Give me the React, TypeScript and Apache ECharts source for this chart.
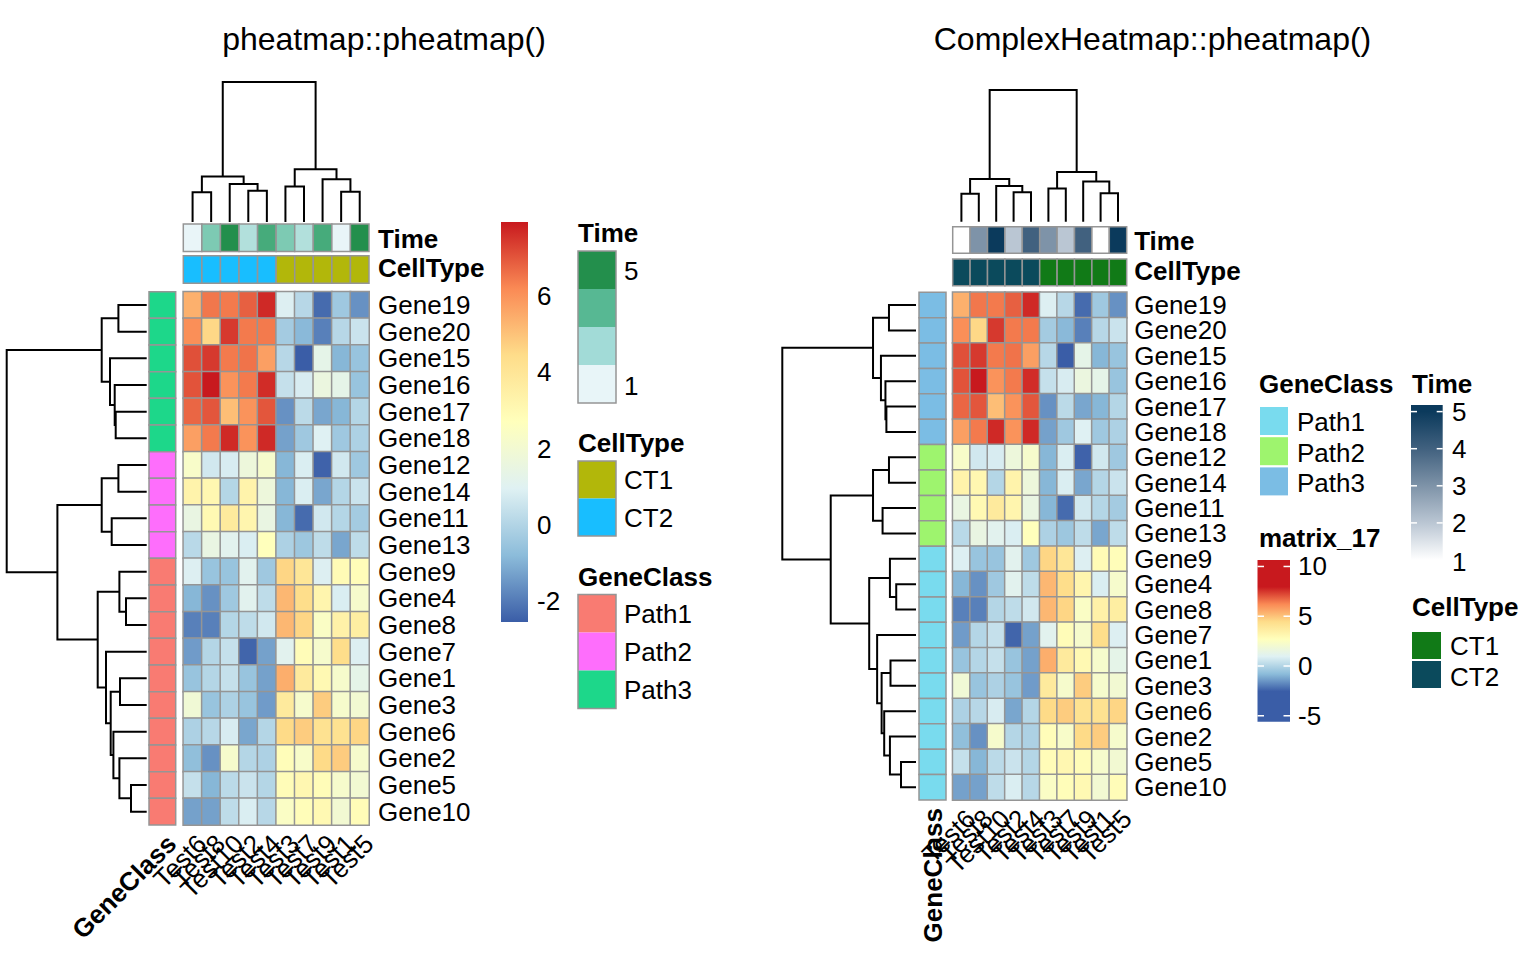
import React, { useEffect, useRef } from "react";
import * as echarts from "echarts";

// ---------------- data ----------------
const tests = ["Test6", "Test8", "Test10", "Test2", "Test4", "Test3", "Test7", "Test9", "Test1", "Test5"];
const genes = ["Gene19", "Gene20", "Gene15", "Gene16", "Gene17", "Gene18", "Gene12", "Gene14", "Gene11", "Gene13",
  "Gene9", "Gene4", "Gene8", "Gene7", "Gene1", "Gene3", "Gene6", "Gene2", "Gene5", "Gene10"];

// rows follow `genes`, columns follow `tests`
const expression = [
  [5.4, 6.5, 6.45, 6.85, 7.7, 0.9, 0.1, -2.3, -0.4, -1.6],
  [6.1, 4.55, 7.45, 6.45, 6.45, -0.3, -0.85, -1.9, 0.1, 0.5],
  [7.1, 7.45, 6.45, 6.55, 5.75, 0.1, -2.55, 1.3, -0.9, -0.55],
  [7.05, 7.95, 6.0, 6.45, 7.65, 0.4, 0.8, 1.6, 1.3, -0.55],
  [6.75, 7.0, 5.1, 6.0, 7.0, -1.6, 0.2, -1.2, -0.9, 0.05],
  [5.75, 6.45, 7.7, 6.0, 7.7, -1.3, -0.4, 0.95, -0.4, -0.1],
  [2.3, 0.65, 0.8, 1.7, 2.2, -0.9, 0.85, -2.45, 0.65, -0.4],
  [3.3, 3.1, 0.05, 3.3, 1.7, -0.9, 0.85, -1.2, 0.05, 0.5],
  [1.5, 3.0, 3.8, 3.2, 1.5, -0.9, -2.3, 0.65, 0.05, -0.3],
  [0.15, 1.5, 1.1, 0.85, 2.7, -0.1, -0.45, 0.25, -1.2, 0.25],
  [0.9, -0.55, -0.55, 1.1, -0.4, 4.6, 4.0, 0.9, 2.9, 2.8],
  [-0.9, -1.6, -0.4, 1.1, 0.25, 5.25, 4.4, 3.2, 0.85, 2.2],
  [-1.9, -1.9, 0.05, 0.25, 0.65, 5.25, 4.6, 2.4, 3.4, 3.6],
  [-1.4, 0.05, 0.4, -2.4, -1.3, 1.1, 2.85, 2.2, 4.4, 0.9],
  [-0.55, 0.05, 0.4, -0.55, -1.3, 5.45, 3.8, 3.0, 2.2, 1.3],
  [1.9, -0.55, -0.1, -0.55, -1.4, 3.8, 2.2, 4.8, 2.2, 2.0],
  [-0.1, 0.1, 0.8, -1.2, 0.05, 4.5, 4.8, 4.2, 4.2, 4.6],
  [-0.7, -1.6, 2.2, 0.05, -0.1, 2.8, 2.3, 4.5, 4.8, 2.2],
  [0.4, -0.9, 0.2, 0.5, 0.05, 2.85, 3.1, 2.85, 2.2, 2.0],
  [-1.3, -1.3, 0.25, 0.85, 0.1, 2.4, 2.8, 3.0, 2.0, 2.85],
];

const timeByColumn = [1, 3, 5, 2, 4, 3, 2, 4, 1, 5];
const cellTypeByColumn = ["CT2", "CT2", "CT2", "CT2", "CT2", "CT1", "CT1", "CT1", "CT1", "CT1"];
const geneClassByRow = ["Path3", "Path3", "Path3", "Path3", "Path3", "Path3", "Path2", "Path2", "Path2", "Path2",
  "Path1", "Path1", "Path1", "Path1", "Path1", "Path1", "Path1", "Path1", "Path1", "Path1"];

// hclust-like merges: negative = leaf (display position), positive = earlier merge; third = height
const colMerge = [
  [-1, -2, 29.7], [-4, -5, 31.3], [-3, 2, 38], [1, 3, 45.3],
  [-6, -7, 35.3], [-9, -10, 30.3], [-8, 6, 42.7], [5, 7, 52.7], [4, 8, 139.7],
];
const rowMerge = [
  [-1, -2, 28.3], [-5, -6, 31], [-4, 2, 32], [-3, 3, 36.7], [1, 4, 45],
  [-7, -8, 28.3], [-9, -10, 35], [6, 7, 45],
  [-12, -13, 20.7], [-11, 9, 27.3], [-15, -16, 26.7], [-19, -20, 15.7], [-18, 12, 27.3],
  [-17, 13, 33.3], [11, 14, 36], [-14, 15, 40.7], [10, 16, 49], [8, 17, 89.3], [5, 18, 140],
];

const leftScaleTicks = [6, 4, 2, 0, -2];
const rightScaleTicks = [10, 5, 0, -5];
const timeTicks = [5, 4, 3, 2, 1];
const classNames = ["Path1", "Path2", "Path3"];
const cellTypeNames = ["CT1", "CT2"];

// ---------------- styles ----------------
const FONT = "'Liberation Sans', Arial, Helvetica, sans-serif";
const FS = 26;
const heatColors = ["#3A5DA7", "#8CBCDA", "#DFF1F3", "#FFFFBC", "#FEDD8A", "#FA8A55", "#C8191E"];
const valueMin = -2.55;
const valueMax = 7.95;
const cellBorder = "#959595";
const borderW = 1.5;

const leftTimeColors: Record<number, string> = { 1: "#E9F5F8", 2: "#B2E0DC", 3: "#7DCAB3", 4: "#46AB7B", 5: "#238F4C" };
const leftTimeLegend = ["#238F4C", "#57B893", "#A2DBD7", "#E8F5F8"];
const leftCellColors: Record<string, string> = { CT1: "#B2B70A", CT2: "#18BEFF" };
const leftClassColors: Record<string, string> = { Path1: "#F97B72", Path2: "#FE6EFC", Path3: "#1DD78A" };

const rightTimeColors: Record<number, string> = { 1: "#FFFFFF", 2: "#BAC6D3", 3: "#7E93A8", 4: "#41617F", 5: "#0B3A5C" };
const rightCellColors: Record<string, string> = { CT1: "#117A17", CT2: "#0B4A5C" };
const rightClassColors: Record<string, string> = { Path1: "#79DBEE", Path2: "#9EF46E", Path3: "#7BBDE4" };

// ---------------- helpers ----------------
function dendroSegments(merge: number[][]) {
  const nodes: { x: number; h: number }[] = [];
  const segs: number[][] = [];
  const pos = (ref: number) => (ref < 0 ? { x: -ref - 0.5, h: 0 } : nodes[ref - 1]);
  merge.forEach(([a, b, h]) => {
    const A = pos(a);
    const B = pos(b);
    segs.push([A.x, B.x, A.h, B.h, h]);
    nodes.push({ x: (A.x + B.x) / 2, h });
  });
  return segs;
}

const txt = (x: number, y: number, text: string, bold = false, align = "left", size = FS) => ({
  type: "text",
  x,
  y,
  silent: true,
  style: {
    text,
    fontSize: size,
    fontFamily: FONT,
    fontWeight: bold ? "bold" : "normal",
    fill: "#000",
    align,
    verticalAlign: "middle",
    textAlign: align,
    textVerticalAlign: "middle",
  },
});
const rect = (x: number, y: number, w: number, h: number, fill: any, stroke?: string, lw = 1.2) => ({
  type: "rect",
  silent: true,
  shape: { x, y, width: w, height: h },
  style: { fill, stroke: stroke || null, lineWidth: stroke ? lw : 0 },
});
const dash = (x1: number, x2: number, y: number) => ({
  type: "line",
  silent: true,
  shape: { x1, y1: y, x2, y2: y },
  style: { stroke: "#FFFFFF", lineWidth: 1.5 },
});

function buildOption() {
  const colSegs = dendroSegments(colMerge);
  const rowSegs = dendroSegments(rowMerge);
  const colRoot = colMerge[colMerge.length - 1][2];
  const rowRoot = rowMerge[rowMerge.length - 1][2];

  const heatData: number[][] = [];
  expression.forEach((row, r) => row.forEach((v, c) => heatData.push([c, r, v])));

  const colAnnData: number[][] = [];
  tests.forEach((_, i) => colAnnData.push([i, 0]));
  tests.forEach((_, i) => colAnnData.push([i, 1]));
  const leftColAnnColors = [...timeByColumn.map((t) => leftTimeColors[t]), ...cellTypeByColumn.map((c) => leftCellColors[c])];
  const rightColAnnColors = [...timeByColumn.map((t) => rightTimeColors[t]), ...cellTypeByColumn.map((c) => rightCellColors[c])];

  const rowAnnData = genes.map((_, i) => [0, i]);
  const leftRowColors = geneClassByRow.map((g) => leftClassColors[g]);
  const rightRowColors = geneClassByRow.map((g) => rightClassColors[g]);

  const annRender = (colors: string[], gap: number) => (params: any, api: any) => {
    const c = api.coord([api.value(0), api.value(1)]);
    const s = api.size([1, 1]);
    const track = api.value(1);
    const h = s[1] - gap / 2;
    const y = track === 0 ? c[1] - s[1] / 2 : c[1] + s[1] / 2 - h;
    return {
      type: "rect",
      shape: { x: c[0] - s[0] / 2, y, width: s[0], height: h },
      style: { fill: colors[params.dataIndex], stroke: cellBorder, lineWidth: borderW },
    };
  };
  const rowAnnRender = (colors: string[]) => (params: any, api: any) => {
    const c = api.coord([api.value(0), api.value(1)]);
    const s = api.size([1, 1]);
    return {
      type: "rect",
      shape: { x: c[0] - s[0] / 2, y: c[1] - s[1] / 2, width: s[0], height: s[1] },
      style: { fill: colors[params.dataIndex], stroke: cellBorder, lineWidth: borderW },
    };
  };
  const colDendroRender = (params: any, api: any) => {
    const xa = api.value(0), xb = api.value(1), ha = api.value(2), hb = api.value(3), h = api.value(4);
    return {
      type: "polyline",
      shape: { points: [api.coord([xa, ha]), api.coord([xa, h]), api.coord([xb, h]), api.coord([xb, hb])] },
      style: { stroke: "#000", lineWidth: 2, fill: null },
    };
  };
  const rowDendroRender = (params: any, api: any) => {
    const ya = api.value(0), yb = api.value(1), ha = api.value(2), hb = api.value(3), h = api.value(4);
    return {
      type: "polyline",
      shape: { points: [api.coord([ha, ya]), api.coord([h, ya]), api.coord([h, yb]), api.coord([hb, yb])] },
      style: { stroke: "#000", lineWidth: 2, fill: null },
    };
  };

  const grids = [
    { left: 183.3, top: 291.7, width: 185.7, height: 533.3 },
    { left: 183.3, top: 224, width: 185.7, height: 59.3 },
    { left: 183.3, top: 82, width: 185.7, height: 140 },
    { left: 149, top: 291.7, width: 26.7, height: 533.3 },
    { left: 6.7, top: 291.7, width: 140, height: 533.3 },
    { left: 952.7, top: 292.3, width: 174, height: 507.7 },
    { left: 952.7, top: 226.7, width: 174, height: 59 },
    { left: 952.7, top: 90, width: 174, height: 131.7 },
    { left: 919, top: 292.3, width: 27, height: 507.7 },
    { left: 782.3, top: 292.3, width: 133.7, height: 507.7 },
  ].map((g) => ({ ...g, containLabel: false, show: false }));

  const noLine = { axisLine: { show: false }, axisTick: { show: false }, splitLine: { show: false } };
  const hiddenCat = (grid: number, data: string[], inverse = false) => ({ type: "category", gridIndex: grid, data, inverse, show: false, ...noLine });
  const hiddenVal = (grid: number, max: number, inverse = false) => ({ type: "value", gridIndex: grid, min: 0, max, inverse, show: false, ...noLine });
  const label = (extra: any) => ({ show: true, interval: 0, hideOverlap: false, color: "#000", fontSize: FS, fontFamily: FONT, ...extra });

  const xAxis = [
    { type: "category", gridIndex: 0, data: tests, ...noLine, axisLabel: label({ rotate: 45, align: "right", verticalAlign: "top", margin: 5 }) },
    hiddenCat(1, tests),
    hiddenVal(2, 10),
    { type: "category", gridIndex: 3, data: ["GeneClass"], ...noLine, axisLabel: label({ rotate: 45, align: "right", verticalAlign: "top", margin: 5, fontWeight: "bold" }) },
    hiddenVal(4, rowRoot, true),
    { type: "category", gridIndex: 5, data: tests, ...noLine, axisLabel: label({ rotate: 45, align: "right", verticalAlign: "top", margin: 5 }) },
    hiddenCat(6, tests),
    hiddenVal(7, 10),
    { type: "category", gridIndex: 8, data: ["GeneClass"], ...noLine, axisLabel: label({ rotate: 90, align: "right", verticalAlign: "middle", margin: 8, fontWeight: "bold" }) },
    hiddenVal(9, rowRoot, true),
  ];
  const yAxis = [
    { type: "category", gridIndex: 0, data: genes, inverse: true, position: "right", ...noLine, axisLabel: label({ margin: 9 }) },
    { type: "category", gridIndex: 1, data: ["Time", "CellType"], inverse: true, position: "right", ...noLine, axisLabel: label({ margin: 9, fontWeight: "bold" }) },
    hiddenVal(2, colRoot),
    hiddenCat(3, genes, true),
    hiddenVal(4, 20, true),
    { type: "category", gridIndex: 5, data: genes, inverse: true, position: "right", ...noLine, axisLabel: label({ margin: 7.5 }) },
    { type: "category", gridIndex: 6, data: ["Time", "CellType"], inverse: true, position: "right", ...noLine, axisLabel: label({ margin: 7.5, fontWeight: "bold" }) },
    hiddenVal(7, colRoot),
    hiddenCat(8, genes, true),
    hiddenVal(9, 20, true),
  ];

  const heatSeries = (idx: number) => ({
    type: "heatmap",
    xAxisIndex: idx,
    yAxisIndex: idx,
    data: heatData,
    silent: true,
    emphasis: { disabled: true },
    itemStyle: { borderColor: cellBorder, borderWidth: borderW },
  });
  const custom = (idx: number, data: any[], renderItem: any) => ({
    type: "custom",
    xAxisIndex: idx,
    yAxisIndex: idx,
    data,
    renderItem,
    silent: true,
    clip: false,
    emphasis: { disabled: true },
  });

  const series = [
    heatSeries(0),
    custom(1, colAnnData, annRender(leftColAnnColors, 4.3)),
    custom(2, colSegs, colDendroRender),
    custom(3, rowAnnData, rowAnnRender(leftRowColors)),
    custom(4, rowSegs, rowDendroRender),
    heatSeries(5),
    custom(6, colAnnData, annRender(rightColAnnColors, 5.7)),
    custom(7, colSegs, colDendroRender),
    custom(8, rowAnnData, rowAnnRender(rightRowColors)),
    custom(9, rowSegs, rowDendroRender),
  ];

  // ---------- legends (graphic) ----------
  const g: any[] = [];
  g.push(txt(384, 39, "pheatmap::pheatmap()", false, "center", 32));
  g.push(txt(1152.5, 39, "ComplexHeatmap::pheatmap()", false, "center", 32));

  // left colour bar
  const lbTop = 222, lbBottom = 622;
  g.push(rect(501, lbTop, 27, lbBottom - lbTop,
    new echarts.graphic.LinearGradient(0, 1, 0, 0, heatColors.map((c, i) => ({ offset: i / (heatColors.length - 1), color: c })))));
  leftScaleTicks.forEach((v) => {
    const y = lbBottom - ((v - valueMin) / (valueMax - valueMin)) * (lbBottom - lbTop);
    g.push(txt(537, y, String(v)));
  });

  // left Time legend
  g.push(txt(578, 233, "Time", true));
  leftTimeLegend.forEach((c, i) => g.push(rect(578, 251 + i * 38, 38, 38, c)));
  g.push(rect(578, 251, 38, 152, "none", cellBorder, 1.5));
  g.push(txt(624, 271, String(timeTicks[0])));
  g.push(txt(624, 386, String(timeTicks[timeTicks.length - 1])));

  // left CellType legend
  g.push(txt(578, 443, "CellType", true));
  cellTypeNames.forEach((n, i) => {
    g.push(rect(578, 461 + i * 37.5, 38, 37.5, leftCellColors[n]));
    g.push(txt(624, 480 + i * 38, n));
  });
  g.push(rect(578, 461, 38, 75, "none", cellBorder, 1.5));

  // left GeneClass legend
  g.push(txt(578, 577, "GeneClass", true));
  classNames.forEach((n, i) => {
    g.push(rect(578, 594.5 + i * 38, 38, 38, leftClassColors[n]));
    g.push(txt(624, 614 + i * 38, n));
  });
  g.push(rect(578, 594.5, 38, 114, "none", cellBorder, 1.5));

  // right GeneClass legend
  g.push(txt(1259, 384, "GeneClass", true));
  classNames.forEach((n, i) => {
    g.push(rect(1260, 407 + i * 30.2, 28, 28, rightClassColors[n]));
    g.push(txt(1297, 422 + i * 30.7, n));
  });

  // right matrix legend
  g.push(txt(1259, 538, "matrix_17", true));
  const mTop = 560, mBottom = 721.7, zeroY = 666, pxPerUnit = 9.953;
  const lo = (zeroY - mBottom) / pxPerUnit; // value at bottom
  const hi = (zeroY - mTop) / pxPerUnit; // value at top
  const stops = [{ offset: 0, color: heatColors[0] }];
  heatColors.forEach((c, i) => {
    const v = valueMin + (i * (valueMax - valueMin)) / (heatColors.length - 1);
    stops.push({ offset: (v - lo) / (hi - lo), color: c });
  });
  stops.push({ offset: 1, color: heatColors[heatColors.length - 1] });
  g.push(rect(1257.5, mTop, 32.5, mBottom - mTop, new echarts.graphic.LinearGradient(0, 1, 0, 0, stops)));
  rightScaleTicks.forEach((v) => {
    const y = zeroY - v * pxPerUnit;
    g.push(dash(1257.5, 1264, y));
    g.push(dash(1283.5, 1290, y));
    g.push(txt(1298, y, String(v)));
  });

  // right Time legend
  g.push(txt(1412, 384, "Time", true));
  const tTop = 405, oneY = 560, tUnit = 37.1;
  const tStops = [1, 2, 3, 4, 5].map((t) => ({ offset: ((t - 1) * tUnit) / (oneY - tTop), color: rightTimeColors[t] }));
  tStops.push({ offset: 1, color: rightTimeColors[5] });
  g.push(rect(1411, tTop, 31.7, oneY - tTop, new echarts.graphic.LinearGradient(0, 1, 0, 0, tStops)));
  timeTicks.forEach((t) => {
    const y = oneY - (t - 1) * tUnit;
    if (t > 1) {
      g.push(dash(1411, 1417, y));
      g.push(dash(1436.7, 1442.7, y));
    }
    g.push(txt(1452, y + (t === 1 ? 1.5 : 0), String(t)));
  });

  // right CellType legend
  g.push(txt(1412, 607, "CellType", true));
  cellTypeNames.forEach((n, i) => {
    g.push(rect(1412, 632 + i * 29, 29, 27, rightCellColors[n]));
    g.push(txt(1450, 646 + i * 31, n));
  });

  return {
    animation: false,
    backgroundColor: "#FFFFFF",
    textStyle: { fontFamily: FONT },
    grid: grids,
    xAxis,
    yAxis,
    visualMap: [{ type: "continuous", min: valueMin, max: valueMax, seriesIndex: [0, 5], show: false, inRange: { color: heatColors } }],
    series,
    graphic: { elements: g },
  };
}

export default function App() {
  const ref = useRef<HTMLDivElement>(null);
  useEffect(() => {
    if (!ref.current) return;
    const chart = echarts.init(ref.current, undefined, { renderer: "svg" });
    chart.setOption(buildOption() as any);
    return () => chart.dispose();
  }, []);
  return <div ref={ref} style={{ position: "fixed", left: 0, top: 0, width: 1536, height: 960, background: "#fff" }} />;
}
